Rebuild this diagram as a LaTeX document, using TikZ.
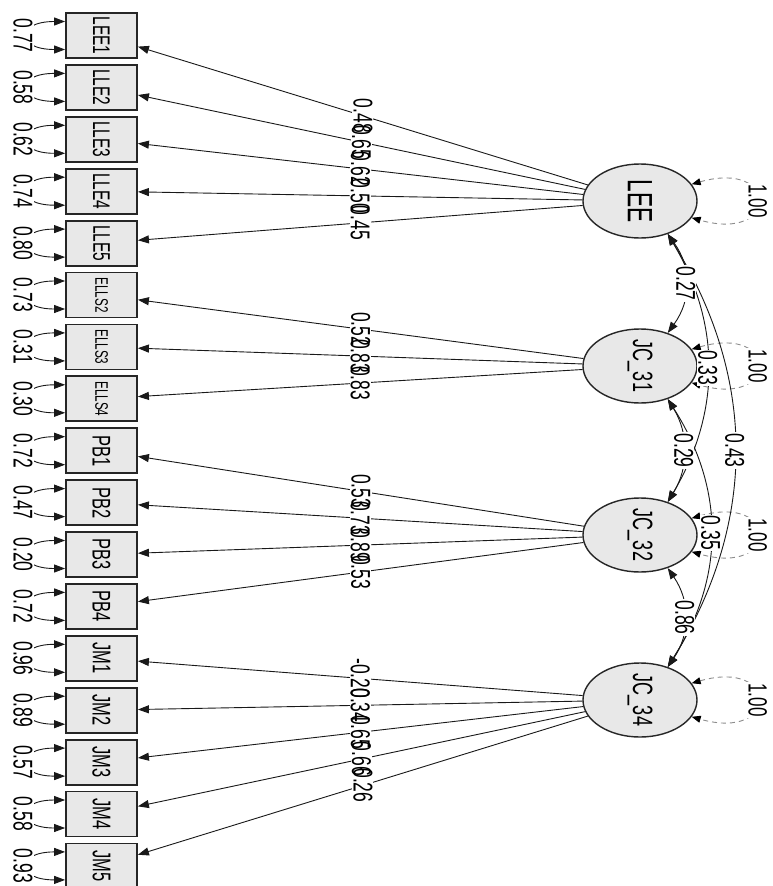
\documentclass[tikz,border=0pt]{standalone}
\usepackage{fontspec}
\usepackage{graphicx}
\setmainfont{Liberation Sans}
\usetikzlibrary{shapes.geometric,arrows.meta}
\newcommand{\sqz}[2]{\fontsize{#1}{#1}\selectfont\scalebox{1}[1.55]{#2}}
\tikzset{
  mbox/.style={rectangle, draw=black!85, line width=1.8pt, fill=black!9, minimum width=71pt, minimum height=45pt, inner sep=0pt},
  lat/.style={ellipse, draw=black!85, line width=1.4pt, fill=black!9, minimum width=114pt, minimum height=74pt, inner sep=0pt},
  rtxt/.style={rotate=-90, inner sep=0pt, text=black},
  lbg/.style={rotate=-90, inner sep=1pt, fill=white},
  ltx/.style={rotate=-90, inner sep=1pt, text=black},
  rlab/.style={rotate=-90, inner sep=1pt, fill=white, text=black},
  load/.style={draw=black!90, line width=0.9pt, ->},
  cov/.style={draw=black!90, line width=0.9pt, <->},
  resid/.style={draw=black!90, line width=0.9pt, <->},
  varl/.style={draw=black!45, line width=0.9pt, dash pattern=on 5pt off 4pt,
    {Triangle[length=9pt,width=7pt,color=black]}-{Triangle[length=9pt,width=7pt,color=black]}},
}
\def\boxlist{LEE1/15.5/0.77/LEE/0.48, LLE2/15.5/0.58/LEE/0.65, LLE3/15.5/0.62/LEE/0.62,
 LLE4/15.5/0.74/LEE/0.50, LLE5/15.5/0.80/LEE/0.45, ELLS2/11.7/0.73/JC31/0.52,
 ELLS3/11.7/0.31/JC31/0.83, ELLS4/11.7/0.30/JC31/0.83, PB1/16.5/0.72/JC32/0.53,
 PB2/16.5/0.47/JC32/0.73, PB3/16.5/0.20/JC32/0.89, PB4/16.5/0.72/JC32/0.53,
 JM1/16.5/0.96/JC34/-0.20, JM2/16.5/0.89/JC34/0.34, JM3/16.5/0.57/JC34/0.65,
 JM4/16.5/0.58/JC34/0.66, JM5/16.5/0.93/JC34/0.26}
\begin{document}
\begin{tikzpicture}[x=1pt,y=1pt,>={Triangle[length=11pt,width=8pt]}]
\useasboundingbox (0,0) rectangle (772,-886);
\fill[white] (0,0) rectangle (772,-886);
\clip (0,0) rectangle (772,-886);
% latent variables
\foreach \nm/\txt/\fsz/\yy in {LEE/LEE/22.7/201, JC31/JC\_31/18/366, JC32/JC\_32/18/535, JC34/JC\_34/18/700}{
  \node[lat] (\nm) at (640,-\yy) {};
  \node[rtxt] (\nm-t) at (\nm) {\sqz{\fsz}{\txt}};
}
% manifest variables, residuals, loadings
\foreach \nm/\fsz/\res/\lv/\ld [count=\i from 0] in \boxlist {
  \pgfmathsetmacro{\yc}{35.5+51.9*\i}
  \node[mbox] (\nm) at (101.5,-\yc) {};
  \node[rtxt] (\nm-t) at (\nm) {\sqz{\fsz}{\nm}};
  \draw[resid] ([yshift=14pt]\nm.west) .. controls +(-50,0) and +(-50,0) .. ([yshift=-14pt]\nm.west);
  \draw[load] (\lv) -- (\nm) coordinate[pos=0.5] (m-\nm);
}
% variances
\foreach \nm in {LEE,JC31,JC32,JC34}{
  \draw[varl] (\nm.18) .. controls +(88,25) and +(88,-25) .. (\nm.-18) coordinate[pos=0.5] (v-\nm);
}
% covariances
\draw[cov] (LEE.-50) .. controls +(24,-33.3) and +(24,33.3) .. (JC31.50) coordinate[pos=0.5] (c-a);
\draw[cov] (JC31.-50) .. controls +(21.3,-34.7) and +(21.3,34.7) .. (JC32.50) coordinate[pos=0.5] (c-b);
\draw[cov] (JC32.-50) .. controls +(22.7,-33.3) and +(22.7,33.3) .. (JC34.50) coordinate[pos=0.5] (c-c);
\draw[cov] (LEE.-50) .. controls +(53.3,-89.7) and +(53.3,89.7) .. (JC32.50) coordinate[pos=0.5] (c-d);
\draw[cov] (JC31.-50) .. controls +(57.3,-89.7) and +(57.3,89.7) .. (JC34.50) coordinate[pos=0.5] (c-e);
\draw[cov] (LEE.-50) .. controls +(89.3,-144.7) and +(89.3,144.7) .. (JC34.50) coordinate[pos=0.5] (c-f);
% residual labels
\foreach \nm/\fsz/\res/\lv/\ld [count=\i from 0] in \boxlist {
  \pgfmathsetmacro{\yc}{35.5+51.9*\i}
  \node[rlab] (r-\nm) at (23,-\yc) {\sqz{17.5}{\res}};
}
% variance labels
\foreach \nm in {LEE,JC31,JC32,JC34}{
  \node[rlab] (v-\nm-l) at (v-\nm) {\sqz{17}{1.00}};
}
% covariance labels
\foreach \c/\v in {a/0.27, b/0.29, c/0.86, d/0.33, e/0.35, f/0.43}{
  \node[rlab] (c-\c-l) at (c-\c) {\sqz{17.5}{\v}};
}
% loading label backgrounds then texts
\foreach \nm/\fsz/\res/\lv/\ld in \boxlist {
  \node[lbg] (m-\nm-b) at (m-\nm) {\sqz{17.5}{\phantom{\ld}}};
}
\foreach \nm/\fsz/\res/\lv/\ld in \boxlist {
  \node[ltx] (m-\nm-l) at (m-\nm) {\sqz{17.5}{\ld}};
}
\end{tikzpicture}
\end{document}
